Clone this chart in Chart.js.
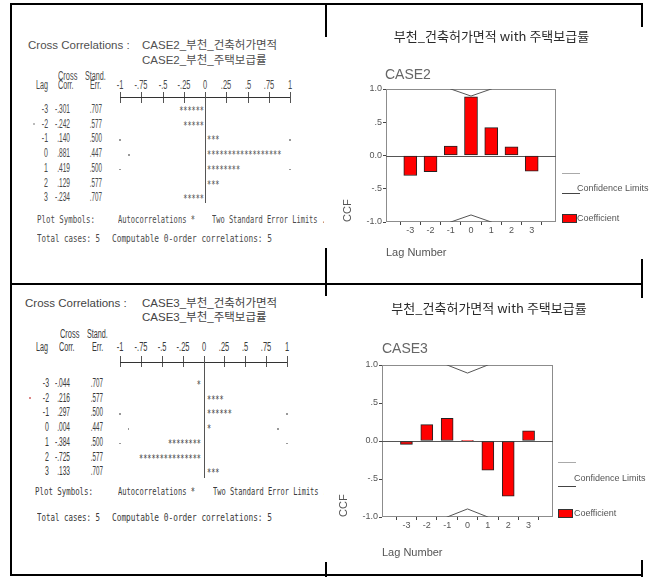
<!DOCTYPE html>
<html>
<head>
<meta charset="utf-8">
<script src="https://cdn.jsdelivr.net/npm/chart.js@4/dist/chart.umd.min.js"></script>
<style>
  html,body{margin:0;padding:0;background:#fff;}
  body{width:658px;height:577px;position:relative;overflow:hidden;}
  .abs{position:absolute;white-space:pre;}
</style>
</head>
<body>
<div id="left" style="position:absolute;left:0;top:0;width:324px;height:577px;overflow:hidden"></div>
<canvas id="c1" width="333" height="285" style="position:absolute;left:325px;top:0"></canvas>
<canvas id="c2" width="333" height="292" style="position:absolute;left:325px;top:285px"></canvas>
<div id="over"></div>
<script>
// ---------- data ----------
const lags = [-3, -2, -1, 0, 1, 2, 3];
const case2Corr = [-0.301, -0.242, 0.140, 0.881, 0.419, 0.129, -0.234];
const case3Corr = [-0.044, 0.216, 0.297, 0.004, -0.384, -0.725, 0.133];
const case2CorrLabels = ['-.301', '-.242', '.140', '.881', '.419', '.129', '-.234'];
const case3CorrLabels = ['-.044', '.216', '.297', '.004', '-.384', '-.725', '.133'];
const stdErr = [0.707, 0.577, 0.500, 0.447, 0.500, 0.577, 0.707];
const stdErrLabels = ['.707', '.577', '.500', '.447', '.500', '.577', '.707'];
const upperLimit = [1.414, 1.155, 1.000, 0.894, 1.000, 1.155, 1.414];
const lowerLimit = [-1.414, -1.155, -1.000, -0.894, -1.000, -1.155, -1.414];
const yTicks = [-1, -0.5, 0, 0.5, 1];
const yTickLabels = ['-1.0', '-.5', '0.0', '.5', '1.0'];
const plotTicks = [-1, -0.75, -0.5, -0.25, 0, 0.25, 0.5, 0.75, 1];
const plotTickLabels = ['-1', '-.75', '-.5', '-.25', '0', '.25', '.5', '.75', '1'];
const chartTitle = '부천_건축허가면적 with 주택보급률';
const case2Names = ['CASE2_부천_건축허가면적', 'CASE2_부천_주택보급률'];
const case3Names = ['CASE3_부천_건축허가면적', 'CASE3_부천_주택보급률'];

// ---------- helpers ----------
const MONO = "'DejaVu Sans Mono', monospace";
const SANS = "'Liberation Sans', Arial, 'Noto Sans CJK KR', sans-serif";
const ADV = 11 * 0.6021;
const left = document.getElementById('left');
const over = document.getElementById('over');

function txt(parent, x, y, s, o) {
  o = o || {};
  const d = document.createElement('div');
  d.className = 'abs';
  d.textContent = s;
  const fs = o.fs || 11;
  const lh = o.lh || 12;
  d.style.fontFamily = o.ff || MONO;
  d.style.fontSize = fs + 'px';
  d.style.lineHeight = lh + 'px';
  d.style.color = o.c || '#555';
  d.style.top = (y - lh / 2 + (o.dy || 0)) + 'px';
  d.style.left = x + 'px';
  let sx = o.sx || 1;
  if (o.w) sx = o.w / (s.length * ADV);
  const al = o.al || 'left';
  if (al === 'left') { d.style.transformOrigin = '0 50%'; d.style.transform = 'scaleX(' + sx + ')'; }
  else if (al === 'right') { d.style.transformOrigin = '100% 50%'; d.style.transform = 'translateX(-100%) scaleX(' + sx + ')'; }
  else { d.style.transformOrigin = '50% 50%'; d.style.transform = 'translateX(-50%) scaleX(' + sx + ')'; }
  parent.appendChild(d);
  return d;
}
function box(parent, x, y, w, h, col) {
  const d = document.createElement('div');
  d.style.cssText = 'position:absolute;left:' + x + 'px;top:' + y + 'px;width:' + w + 'px;height:' + h + 'px;background:' + col;
  parent.appendChild(d);
  return d;
}

// ---------- SPSS text panels ----------
function buildPanel(g, names, corr, corrLabels) {
  const c = g.color;
  const num = {ff: "'Liberation Sans', Arial, sans-serif", fs: 12, lh: 12, c: c, al: 'right'};
  txt(left, g.titleX, g.titleY, 'Cross Correlations :', {ff: SANS, fs: 11.5, lh: 14, c: g.sansColor});
  txt(left, g.caseX, g.titleY, names[0], {ff: SANS, fs: 11.5, lh: 14, c: g.sansColor});
  txt(left, g.caseX, g.title2Y, names[1], {ff: SANS, fs: 11.5, lh: 14, c: g.sansColor});
  txt(left, g.hdrX, g.hdrY, 'Cross', {ff: num.ff, fs: 12, c: c, sx: 0.62});
  txt(left, g.hdrX + 27, g.hdrY, 'Stand.', {ff: num.ff, fs: 12, c: c, sx: 0.6});
  txt(left, g.lagX, g.colY, 'Lag', {ff: num.ff, fs: 12, c: c, sx: 0.6});
  txt(left, g.corrX, g.colY, 'Corr.', {ff: num.ff, fs: 12, c: c, sx: 0.6});
  txt(left, g.errX, g.colY, 'Err.', {ff: num.ff, fs: 12, c: c, sx: 0.6});
  // scale labels, axis and ticks
  plotTicks.forEach((v, i) => {
    const x = g.zero + v * g.unit;
    txt(left, x, g.colY, plotTickLabels[i], {ff: num.ff, fs: 12, al: 'center', sx: 0.62, c: c});
    box(left, Math.round(x), g.tickTop, 1, g.tickBot - g.tickTop, '#555');
  });
  box(left, g.zero - 1 * g.unit, g.axisY - 0.5, 2 * g.unit, 1.6, '#333');
  box(left, Math.round(g.zero), g.axisY, 1, g.zeroEnd - g.axisY, '#555');
  // rows
  lags.forEach((lag, i) => {
    const y = g.row0 + g.rowH * i;
    txt(left, g.lagR, y, String(lag), Object.assign({}, num, {sx: 0.58}));
    txt(left, g.corrR, y, corrLabels[i], Object.assign({}, num, {sx: 0.55}));
    txt(left, g.errR, y, stdErrLabels[i], Object.assign({}, num, {sx: 0.52}));
    const n = Math.max(1, Math.round(Math.abs(corr[i]) * 20));
    const stars = '*'.repeat(n);
    const starW = n * 4.13;
    if (corr[i] < 0) txt(left, g.negEnd, y, stars, {al: 'right', sx: 4.13 / ADV, c: c, dy: 2});
    else txt(left, g.posStart, y, stars, {al: 'left', sx: 4.13 / ADV, c: c, dy: 2});
    // two standard error limit dots
    const lim = 2 * stdErr[i];
    if (lim <= 1.001) {
      [-lim, lim].forEach(v => {
        const x = g.zero + v * g.unit;
        const covered = corr[i] < 0 ? (x > g.negEnd - starW - 2 && x < g.negEnd) : (x > g.posStart - 1 && x < g.posStart + starW + 1);
        if (!covered) box(left, x - 1, y + 1, 1.5, 1.5, '#999');
      });
    }
  });
  box(left, g.strayX, g.strayY, 1.5, 1.5, g.strayC);
  txt(left, g.symX, g.symY, 'Plot Symbols:', {w: 58, c: c});
  txt(left, g.autoX, g.symY, 'Autocorrelations *', {w: 77, c: c});
  txt(left, g.twoX, g.symY, 'Two Standard Error Limits .', {w: 114, c: c});
  txt(left, g.totX, g.totY, 'Total cases: 5', {w: 63, c: c});
  txt(left, g.compX, g.totY, 'Computable 0-order correlations: 5', {w: 160, c: c});
}

buildPanel({
  color: '#4a4a4a', sansColor: '#505050',
  titleX: 28, titleY: 45, title2Y: 60, caseX: 142, hdrX: 58, hdrY: 76, colY: 85,
  lagX: 36, corrX: 58, errX: 90, zero: 205, unit: 85, axisY: 97, tickTop: 92, tickBot: 103,
  zeroEnd: 203, row0: 109, rowH: 14.7, lagR: 48, corrR: 70, errR: 102, negEnd: 203.5, posStart: 207,
  symX: 37, symY: 220, autoX: 118, twoX: 212, totX: 37, totY: 239, compX: 112,
  strayX: 33, strayY: 123, strayC: '#bbb'
}, case2Names, case2Corr, case2CorrLabels);

buildPanel({
  color: '#3a3a3a', sansColor: '#444',
  titleX: 25, titleY: 303, title2Y: 317, caseX: 142, hdrX: 60, hdrY: 334, colY: 347,
  lagX: 36, corrX: 59, errX: 92, zero: 203.5, unit: 83.5, axisY: 362, tickTop: 356, tickBot: 367,
  zeroEnd: 478, row0: 383, rowH: 14.7, lagR: 49, corrR: 70, errR: 103, negEnd: 201, posStart: 207,
  symX: 35, symY: 492, autoX: 118, twoX: 213, totX: 37, totY: 518, compX: 112,
  strayX: 29, strayY: 397, strayC: '#d88'
}, case3Names, case3Corr, case3CorrLabels);

// ---------- charts ----------
Chart.defaults.font.family = "'Liberation Sans', Arial, sans-serif";
Chart.defaults.color = '#555';

const framePlugin = {
  id: 'frame',
  beforeDatasetsDraw(chart) {
    const {ctx, chartArea: a} = chart;
    const y = chart.scales.y;
    ctx.save();
    ctx.strokeStyle = '#8c8c8c';
    ctx.lineWidth = 1;
    ctx.strokeRect(Math.round(a.left) + 0.5, Math.round(a.top) + 0.5, Math.round(a.width) - 1, Math.round(a.height) - 1);
    const z = Math.round(y.getPixelForValue(0)) + 0.5;
    ctx.strokeStyle = '#555';
    ctx.beginPath();
    ctx.moveTo(a.left, z);
    ctx.lineTo(a.right, z);
    ctx.stroke();
    ctx.restore();
  }
};

function makeChart(id, corr, g) {
  const limitStyle = {type: 'line', borderColor: '#555', borderWidth: 1, pointRadius: 0, tension: 0, clip: 0, order: 0};
  return new Chart(document.getElementById(id), {
    type: 'bar',
    data: {
      datasets: [
        Object.assign({label: 'Upper', data: lags.map((l, i) => ({x: l, y: upperLimit[i]}))}, limitStyle),
        Object.assign({label: 'Lower', data: lags.map((l, i) => ({x: l, y: lowerLimit[i]}))}, limitStyle),
        {
          type: 'bar', label: 'Coefficient',
          data: lags.map((l, i) => ({x: l, y: corr[i]})),
          backgroundColor: '#ff0000', borderColor: '#222', borderWidth: 1, borderSkipped: false,
          barThickness: g.bar, order: 1
        }
      ]
    },
    options: {
      responsive: false,
      animation: false,
      layout: {padding: g.pad},
      plugins: {legend: {display: false}, tooltip: {enabled: false}},
      scales: {
        x: {
          type: 'linear', min: -3.6, max: 3.6,
          afterBuildTicks: s => { s.ticks = lags.map(v => ({value: v})); },
          afterFit: s => { s.height = g.xh; },
          grid: {drawOnChartArea: false, drawTicks: true, tickLength: 3, color: '#444'},
          border: {display: false},
          ticks: {padding: 0, font: {size: 9}, color: '#555', maxRotation: 0, autoSkip: false, callback: v => String(v)},
          title: {display: true, text: 'Lag Number', align: 'start', font: {size: 11}, color: '#555', padding: 0}
        },
        y: {
          min: -1, max: 1,
          afterBuildTicks: s => { s.ticks = yTicks.map(v => ({value: v})); },
          afterFit: s => { s.width = g.yw; },
          grid: {drawOnChartArea: false, drawTicks: true, tickLength: 3, color: '#444'},
          border: {display: false},
          ticks: {padding: 1, font: {size: 9}, color: '#555', autoSkip: false,
                  callback: v => yTickLabels[yTicks.indexOf(v)]},
          title: {display: true, text: 'CCF', align: 'start', font: {size: 11}, color: '#555', padding: {top: g.ccf, bottom: 0}}
        }
      }
    },
    plugins: [framePlugin]
  });
}

makeChart('c1', case2Corr, {pad: {top: 89, right: 102, bottom: 25, left: 0}, yw: 61, xh: 38, bar: 13, ccf: 16.4});
makeChart('c2', case3Corr, {pad: {top: 80, right: 105, bottom: 17, left: 0}, yw: 57, xh: 43, bar: 12, ccf: 12.4});

// chart titles, case names, legends (HTML text)
function chartTitleDiv(x, w, y, s) {
  const d = document.createElement('div');
  d.className = 'abs';
  d.textContent = s;
  d.style.cssText += 'left:' + x + 'px;width:' + w + 'px;text-align:center;top:' + (y - 9) + 'px;font:13px/16px "Noto Sans CJK KR", sans-serif;color:#2a2a2a;';
  over.appendChild(d);
}
chartTitleDiv(325, 333, 37, chartTitle);
chartTitleDiv(325, 328, 309, chartTitle);
txt(over, 385, 74, 'CASE2', {ff: SANS, fs: 14, lh: 16, c: '#666'});
txt(over, 382, 348, 'CASE3', {ff: SANS, fs: 14, lh: 16, c: '#666'});

function legend(x, l1, l2, ty, bx, bw, by, bh, tx2, cy) {
  box(over, x, l1, 18, 1, '#aaa');
  box(over, x, l2, 18, 1, '#444');
  txt(over, tx2, ty, 'Confidence Limits', {ff: SANS, fs: 9, lh: 10, c: '#555'});
  const b = box(over, bx, by, bw, bh, '#ff0000');
  b.style.boxSizing = 'border-box';
  b.style.border = '1px solid #333';
  txt(over, tx2, cy, 'Coefficient', {ff: SANS, fs: 9, lh: 10, c: '#555'});
}
legend(562, 173, 193, 188, 562, 15, 214, 9, 577, 218);
legend(558, 462, 486, 478, 558, 15, 509, 9, 574, 513);

// ---------- frame lines ----------
[
  [10, 3, 633, 2], [10, 283, 633, 2], [10, 574, 633, 2], [10, 3, 2, 573],
  [325, 3, 2, 34], [325, 248, 2, 48], [325, 562, 2, 15],
  [641, 3, 2, 24], [641, 259, 2, 39], [641, 560, 2, 17]
].forEach(r => { box(over, r[0], r[1], r[2], r[3], '#000'); });
</script>
</body>
</html>
